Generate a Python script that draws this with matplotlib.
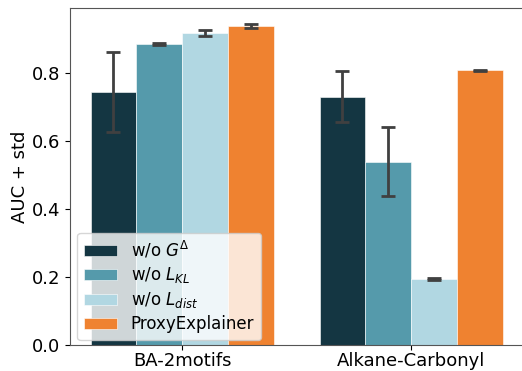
import numpy as np
import matplotlib
matplotlib.use("Agg")
import matplotlib.pyplot as plt

datasets = ["BA-2motifs", "Alkane-Carbonyl"]
labels = [r"w/o $G^{\Delta}$", r"w/o $L_{KL}$", r"w/o $L_{dist}$", "ProxyExplainer"]
means = [
    [0.743, 0.730],
    [0.884, 0.539],
    [0.916, 0.194],
    [0.936, 0.807],
]
stds = [
    [0.117, 0.076],
    [0.004, 0.102],
    [0.009, 0.003],
    [0.006, 0.002],
]
colors = ["#143642", "#559aab", "#b1d7e2", "#ef8230"]

fig = plt.figure(figsize=(5.22, 3.71), dpi=100)
ax = fig.add_axes([70 / 522, 26 / 371, 470 / 522, 337 / 371])

x = np.arange(len(datasets))
w = 0.2
for i in range(4):
    ax.bar(x + (i - 1.5) * w, means[i], w, yerr=stds[i], color=colors[i],
           edgecolor="white", linewidth=0.4, label=labels[i],
           error_kw=dict(ecolor="#404040", elinewidth=2, capsize=5, capthick=2))

ax.set_xlim(-0.49, 1.563)
ax.set_ylim(0, 0.99)
ax.set_xticks(x)
ax.set_xticklabels(datasets, fontsize=13)
ax.set_yticks([0.0, 0.2, 0.4, 0.6, 0.8])
ax.tick_params(axis="y", labelsize=13)
ax.tick_params(axis="x", pad=1.5)
ax.set_ylabel("AUC + std", fontsize=13, labelpad=2)
for s in ax.spines.values():
    s.set_color("#555555")
ax.spines["right"].set_visible(False)
ax.legend(loc="lower left", fontsize=12, handlelength=2, borderaxespad=0.3,
          labelspacing=0.3, bbox_to_anchor=(0.005, 0.0))

fig.savefig("out.png", dpi=100)
